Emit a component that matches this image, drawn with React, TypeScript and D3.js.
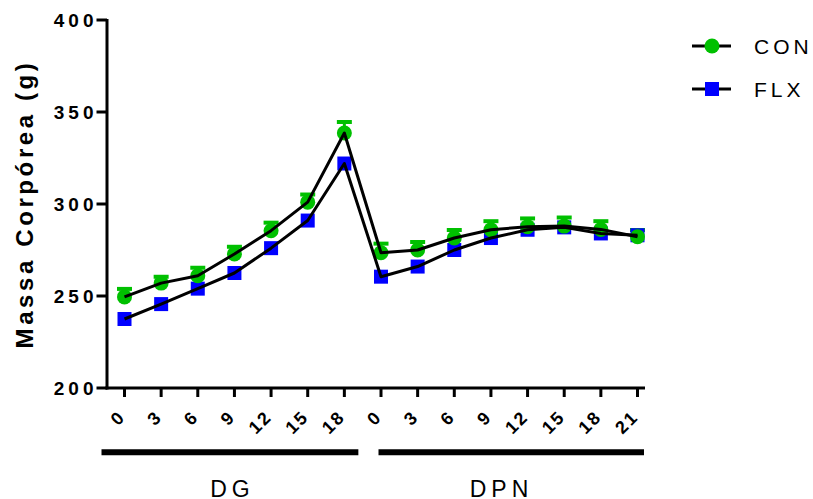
import React from "react";
import * as d3 from "d3";

const xLabels = ["0","3","6","9","12","15","18","0","3","6","9","12","15","18","21"];
const conMean = [249.5,257,261,272.8,285.5,301,338.6,273.5,275,281.5,286,287.7,288,286.2,282.2];
const conSem = [4.9,4,4.9,4.5,4.9,4.7,6.5,5.5,4.9,4.9,5.2,5,5.2,5,4.2];
const flxMean = [237.5,245.6,254,262.5,276,291,322,260.5,266,275,281.5,286,287.3,284,283];
const yTicks = [200,250,300,350,400];
const groups = [
  { label: "DG", from: 0, to: 6, padL: 23, padR: 14, cx: 230 },
  { label: "DPN", from: 7, to: 14, padL: 2.5, padR: 6.5, cx: 499 },
];

const W = 813, H = 499;
const GREEN = "#00c000", BLUE = "#0000ff";

export default function App() {
  const y = d3.scaleLinear().domain([200, 400]).range([388, 20]);
  const x = d3.scaleLinear().domain([0, 14]).range([124.5, 637.5]);
  const line = d3.line<number>().x((_, i) => x(i)).y(d => y(d));
  const font = "'Liberation Sans', Arial, sans-serif";
  return (
    <svg width={W} height={H} style={{ position: "absolute", left: 0, top: 0 }} fontFamily={font}>
      <line x1={107} x2={107} y1={y(400) - 1} y2={y(200) + 1.5} stroke="#000" strokeWidth={3} />
      <line x1={105.5} x2={645} y1={y(200)} y2={y(200)} stroke="#000" strokeWidth={3} />
      {yTicks.map(t => (
        <g key={t}>
          <line x1={96.5} x2={107} y1={y(t)} y2={y(t)} stroke="#000" strokeWidth={3} />
          <text x={97.5} y={y(t)} dy="0.36em" textAnchor="end" fontSize={19} fontWeight="bold" letterSpacing={4}>{t}</text>
        </g>
      ))}
      {xLabels.map((l, i) => (
        <g key={i}>
          <line x1={x(i)} x2={x(i)} y1={y(200)} y2={y(200) + 9} stroke="#000" strokeWidth={3} />
          <text transform={`translate(${x(i) + 2},${418}) rotate(-45)`} textAnchor="end" fontSize={18} fontWeight="bold" letterSpacing={2}>{l}</text>
        </g>
      ))}
      {groups.map(g => (
        <g key={g.label}>
          <line x1={x(g.from) - g.padL} x2={x(g.to) + g.padR} y1={452.3} y2={452.3} stroke="#000" strokeWidth={6} />
          <text x={g.cx + 2.5} y={496.5} textAnchor="middle" fontSize={23} letterSpacing={5}>{g.label}</text>
        </g>
      ))}
      <text transform={`translate(33,${204}) rotate(-90)`} textAnchor="middle" fontSize={24} fontWeight="bold" letterSpacing={3.6}>Massa Corpórea (g)</text>
      {conMean.map((m, i) => (
        <g key={"e" + i}>
          <line x1={x(i)} x2={x(i)} y1={y(m)} y2={y(m + conSem[i])} stroke={GREEN} strokeWidth={3} />
          <line x1={x(i) - 7.5} x2={x(i) + 7.5} y1={y(m + conSem[i]) + 1} y2={y(m + conSem[i]) + 1} stroke={GREEN} strokeWidth={4} />
        </g>
      ))}
      {flxMean.map((m, i) => (
        <rect key={"s" + i} x={x(i) - 7} y={y(m) - 7} width={14} height={14} fill={BLUE} />
      ))}
      {conMean.map((m, i) => (
        <circle key={"c" + i} cx={x(i)} cy={y(m)} r={7.5} fill={GREEN} />
      ))}
      <path d={line(conMean) || ""} fill="none" stroke="#000" strokeWidth={3} strokeLinejoin="round" />
      <path d={line(flxMean) || ""} fill="none" stroke="#000" strokeWidth={3} strokeLinejoin="round" />
      <g>
        <line x1={692} x2={731} y1={46} y2={46} stroke="#000" strokeWidth={3} />
        <circle cx={712} cy={46} r={7.5} fill={GREEN} />
        <text x={754} y={46} dy="0.36em" fontSize={21} letterSpacing={4}>CON</text>
        <line x1={692} x2={731} y1={89} y2={89} stroke="#000" strokeWidth={3} />
        <rect x={705} y={82} width={14} height={14} fill={BLUE} />
        <text x={754} y={89} dy="0.36em" fontSize={21} letterSpacing={4}>FLX</text>
      </g>
    </svg>
  );
}
